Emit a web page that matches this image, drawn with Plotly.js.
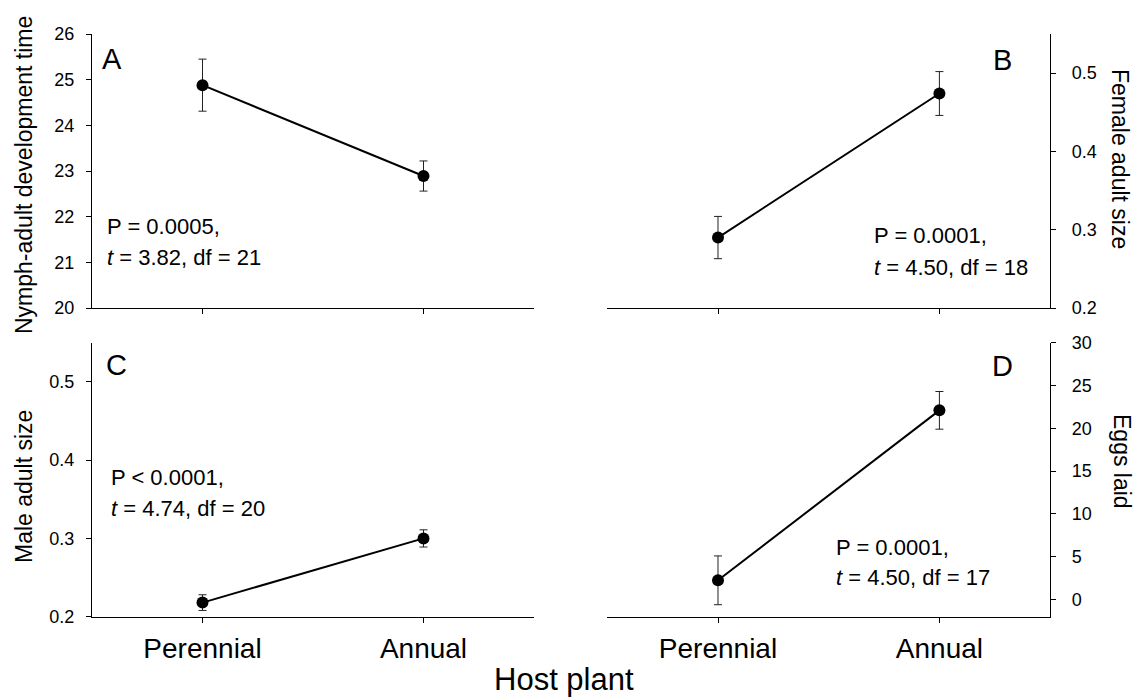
<!DOCTYPE html>
<html>
<head>
<meta charset="utf-8">
<script src="https://cdn.plot.ly/plotly-3.0.1.min.js"></script>
<style>
  html, body { margin: 0; padding: 0; background: #fff; }
  #chart { width: 1140px; height: 698px; }
</style>
</head>
<body>
<div id="chart"></div>
<script>
// ---- data ----
const categories = ['Perennial', 'Annual'];

const devTime    = [24.88, 22.89];
const devTimeErr = [0.57, 0.33];

const femaleSize    = [0.290, 0.474];
const femaleSizeErr = [0.027, 0.028];

const maleSize    = [0.218, 0.300];
const maleSizeErr = [0.010, 0.011];

const eggsLaid    = [2.25, 22.1];
const eggsLaidErr = [2.85, 2.2];

const panelLabels = ['A', 'B', 'C', 'D'];
const statLines = [
  ['P = 0.0005,', '<i>t</i> = 3.82, df = 21'],
  ['P = 0.0001,', '<i>t</i> = 4.50, df = 18'],
  ['P < 0.0001,', '<i>t</i> = 4.74, df = 20'],
  ['P = 0.0001,', '<i>t</i> = 4.50, df = 17']
];
const yTitles = ['Nymph-adult development time', 'Female adult size', 'Male adult size', 'Eggs laid'];
const xTitle = 'Host plant';

// ---- layout helpers ----
const W = 1140, H = 698;
const px = x => x / W;
const py = y => 1 - y / H;
const FONT = 'Liberation Sans, Arial, Helvetica, sans-serif';

const colL = [px(92), px(534)];
const colR = [px(607.3), px(1050.1)];
const rowT = [py(308), py(34)];
const rowB = [py(616.7), py(342.7)];

function trace(y, err, xa, ya) {
  return {
    type: 'scatter', mode: 'lines+markers',
    x: categories, y: y, xaxis: xa, yaxis: ya,
    line: { color: '#000', width: 2 },
    marker: { color: '#000', size: 12, symbol: 'circle' },
    error_y: { type: 'data', array: err, visible: true, color: '#222', thickness: 1, width: 4 },
    hoverinfo: 'skip', showlegend: false, cliponaxis: false
  };
}

const data = [
  trace(devTime, devTimeErr, 'x', 'y'),
  trace(femaleSize, femaleSizeErr, 'x2', 'y2'),
  trace(maleSize, maleSizeErr, 'x3', 'y3'),
  trace(eggsLaid, eggsLaidErr, 'x4', 'y4')
];

const tickFont = { family: FONT, size: 18, color: '#000' };
function xAxis(dom, anchor, labels) {
  return {
    domain: dom, anchor: anchor, type: 'category', range: [-0.5, 1.5],
    showline: true, linecolor: '#000', linewidth: 1, mirror: false,
    ticks: 'outside', ticklen: 5, tickcolor: '#000', tickwidth: 1,
    showgrid: false, zeroline: false, showticklabels: labels,
    tickfont: { family: FONT, size: 28, color: '#000' }, ticklabelstandoff: 2,
    fixedrange: true
  };
}
function yAxis(dom, anchor, side, range, tick0, dtick, standoff) {
  return {
    domain: dom, anchor: anchor, side: side, range: range, tick0: tick0, dtick: dtick,
    showline: true, linecolor: '#000', linewidth: 1,
    ticks: 'outside', ticklen: 5, tickcolor: '#000', tickwidth: 1,
    showgrid: false, zeroline: false, tickfont: tickFont, ticklabelstandoff: standoff,
    fixedrange: true
  };
}

const annotations = [];
function ann(text, x, y, opts) {
  annotations.push(Object.assign({
    text: text, x: px(x), y: py(y), xref: 'paper', yref: 'paper',
    showarrow: false, xanchor: 'left', yanchor: 'middle',
    font: { family: FONT, size: 22, color: '#000' }
  }, opts || {}));
}
// panel letters
const letterPos = [[100, 58.5], [991, 60], [104, 365], [990, 366]];
panelLabels.forEach((t, i) => ann(t, letterPos[i][0], letterPos[i][1], { font: { family: FONT, size: 29, color: '#000' } }));
// statistics
const statPos = [[105, 226, 258], [872, 235, 267], [109, 477, 508.5], [834, 547, 577]];
statLines.forEach((lines, i) => {
  ann(lines[0], statPos[i][0], statPos[i][1]);
  ann(lines[1], statPos[i][0], statPos[i][2]);
});
// axis titles
const titleFont = { family: FONT, size: 23, color: '#000' };
ann(yTitles[0], 24, 175, { xanchor: 'center', textangle: -90, font: titleFont });
ann(yTitles[1], 1120, 159, { xanchor: 'center', textangle: 90, font: titleFont });
ann(yTitles[2], 24, 487, { xanchor: 'center', textangle: -90, font: titleFont });
ann(yTitles[3], 1122, 461, { xanchor: 'center', textangle: 90, font: titleFont });
ann(xTitle, 564, 679, { xanchor: 'center', font: { family: FONT, size: 31, color: '#000' } });

const layout = {
  width: W, height: H,
  margin: { l: 0, r: 0, t: 0, b: 0, pad: 0 },
  paper_bgcolor: '#fff', plot_bgcolor: 'rgba(0,0,0,0)',
  showlegend: false,
  font: { family: FONT, color: '#000' },
  xaxis: xAxis(colL, 'y', false),
  yaxis: yAxis(rowT, 'x', 'left', [20, 26], 20, 1, 8),
  xaxis2: xAxis(colR, 'y2', false),
  yaxis2: yAxis(rowT, 'x2', 'right', [0.2, 0.55], 0.2, 0.1, 12),
  xaxis3: xAxis(colL, 'y3', true),
  yaxis3: yAxis(rowB, 'x3', 'left', [0.2, 0.55], 0.2, 0.1, 8),
  xaxis4: xAxis(colR, 'y4', true),
  yaxis4: yAxis(rowB, 'x4', 'right', [-2, 30], 0, 5, 12),
  annotations: annotations
};

Plotly.newPlot('chart', data, layout, { displayModeBar: false, staticPlot: true });
</script>
</body>
</html>
